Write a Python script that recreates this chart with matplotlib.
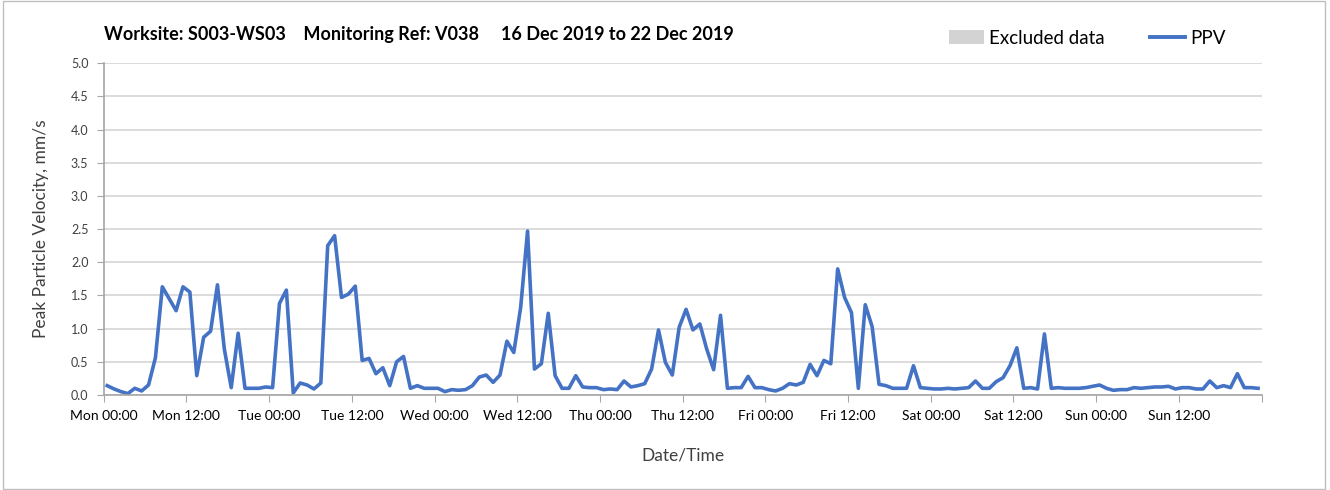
#-------------------------------Imports--------------------------------

import numpy as np
import matplotlib.pyplot as plt
from matplotlib.patches import Patch, Rectangle
from matplotlib.lines import Line2D

#-------------------------------Data-----------------------------------

# hourly PPV readings, Mon 00:30 .. Sun 23:30 (mm/s)
ppv = [
    0.14, 0.09, 0.05, 0.02, 0.10, 0.06, 0.15, 0.56, 1.63, 1.45, 1.27, 1.63,
    1.55, 0.29, 0.87, 0.96, 1.66, 0.69, 0.11, 0.93, 0.10, 0.10, 0.10, 0.12,
    0.11, 1.38, 1.58, 0.03, 0.18, 0.15, 0.09, 0.18, 2.25, 2.40, 1.47, 1.52,
    1.64, 0.52, 0.55, 0.32, 0.41, 0.14, 0.50, 0.58, 0.10, 0.14, 0.10, 0.10,
    0.10, 0.05, 0.08, 0.07, 0.08, 0.14, 0.27, 0.30, 0.19, 0.30, 0.81, 0.64,
    1.32, 2.47, 0.39, 0.47, 1.23, 0.29, 0.10, 0.10, 0.29, 0.12, 0.11, 0.11,
    0.08, 0.09, 0.08, 0.21, 0.12, 0.14, 0.17, 0.39, 0.98, 0.49, 0.30, 1.02,
    1.29, 0.98, 1.07, 0.69, 0.38, 1.20, 0.10, 0.11, 0.11, 0.28, 0.11, 0.11,
    0.08, 0.06, 0.10, 0.17, 0.15, 0.19, 0.46, 0.29, 0.52, 0.47, 1.90, 1.47,
    1.24, 0.10, 1.36, 1.03, 0.16, 0.14, 0.10, 0.10, 0.10, 0.44, 0.11, 0.10,
    0.09, 0.09, 0.10, 0.09, 0.10, 0.11, 0.21, 0.10, 0.10, 0.20, 0.26, 0.44,
    0.71, 0.10, 0.11, 0.09, 0.92, 0.10, 0.11, 0.10, 0.10, 0.10, 0.11, 0.13,
    0.15, 0.10, 0.07, 0.08, 0.08, 0.11, 0.10, 0.11, 0.12, 0.12, 0.13, 0.09,
    0.11, 0.11, 0.09, 0.09, 0.21, 0.11, 0.14, 0.11, 0.32, 0.11, 0.11, 0.10,
]
hours = np.arange(len(ppv)) + 0.5

days = ['Mon', 'Tue', 'Wed', 'Thu', 'Fri', 'Sat', 'Sun']
tick_labels = [f'{d} {t}' for d in days for t in ('00:00', '12:00')] + ['']

title = ('Worksite: S003-WS03    Monitoring Ref: V038     '
         '16 Dec 2019 to 22 Dec 2019')

#-------------------------------Style----------------------------------

plt.rcParams['font.family'] = ['Lato', 'DejaVu Sans']
line_col = '#4472C4'
grid_col = '#D9D9D9'
axis_col = '#A6A6A6'
text_col = '#404040'

#-------------------------------Figure---------------------------------

fig = plt.figure(figsize=(13.3, 4.9), dpi=100)
ax = fig.add_axes([0.078, 0.194, 0.8705, 0.677])

# light frame round the whole chart
fig.patches.append(Rectangle((0.002, 0.003), 0.994, 0.994, transform=fig.transFigure,
                             fill=False, edgecolor='#BFBFBF', lw=1))

ax.plot(hours, ppv, color=line_col, lw=2.6, solid_joinstyle='round')

ax.set_xlim(0, 168)
ax.set_ylim(0, 5)

ax.set_xticks(np.arange(0, 169, 12))
ax.set_xticklabels(tick_labels, fontsize=10, color='black')
ax.set_xticks(np.arange(0, 169, 24), minor=True)
ax.set_yticks(np.arange(0, 5.01, 0.5))
ax.set_yticklabels([f'{v:.1f}' for v in np.arange(0, 5.01, 0.5)], fontsize=9, color=text_col)

ax.grid(axis='y', which='major', color=grid_col, lw=1.3)
ax.grid(axis='x', which='minor', color=grid_col, lw=1.3)
ax.set_axisbelow(True)
ax.tick_params(axis='x', which='major', length=5, color=axis_col, pad=6)
ax.tick_params(axis='x', which='minor', length=0)
ax.tick_params(axis='y', length=5, color=axis_col, pad=6)

for side in ('top', 'right'):
    ax.spines[side].set_visible(False)
for side in ('left', 'bottom'):
    ax.spines[side].set_color(axis_col)
    ax.spines[side].set_linewidth(1.2)

ax.set_xlabel('Date/Time', fontsize=12.5, color=text_col, labelpad=18)
ax.set_ylabel('Peak Particle Velocity, mm/s', fontsize=12.5, color=text_col, labelpad=16)

fig.text(0.078, 0.912, title, fontsize=13, fontweight='bold', ha='left', va='bottom')

handles = [Patch(facecolor='#D3D3D3', edgecolor='none', label='Excluded data'),
           Line2D([], [], color=line_col, lw=2.8, label='PPV')]
fig.legend(handles=handles, loc='center right', bbox_to_anchor=(0.934, 0.922),
           ncol=2, frameon=False, fontsize=13.5, handlelength=1.9,
           handleheight=0.75, handletextpad=0.25, columnspacing=2.4)

#-------------------------------Save-----------------------------------

fig.savefig('out.png', dpi=100)
